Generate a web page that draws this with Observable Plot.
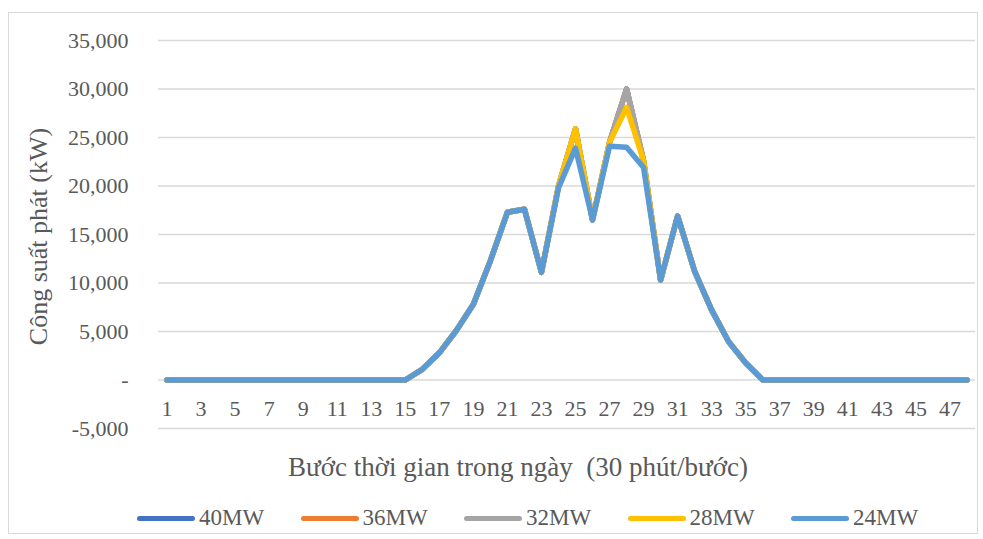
<!DOCTYPE html>
<html>
<head>
<meta charset="utf-8">
<script src="https://cdn.jsdelivr.net/npm/d3@7"></script>
<script src="https://cdn.jsdelivr.net/npm/@observablehq/plot@0.6"></script>
<style>
  body { margin: 0; background: #fff; }
  #wrap { position: relative; width: 983px; height: 539px; font-family: "Liberation Serif", "Times New Roman", serif; color: #595959; }
  #border { position: absolute; left: 8px; top: 12px; width: 970px; height: 522px; border: 1.5px solid #d9d9d9; box-sizing: border-box; }
  #chart { position: absolute; left: 0; top: 0; }
  #xtitle { position: absolute; left: 0; width: 983px; top: 452px; text-align: center; font-size: 27px; line-height: 30px; padding-left: 53px; box-sizing: border-box; white-space: pre; }
  .leg { position: absolute; top: 506px; height: 24px; display: flex; align-items: center; font-size: 23px; }
  .sw { width: 58px; height: 5px; border-radius: 3px; margin-right: 4px; }
</style>
</head>
<body>
<div id="wrap">
  <div id="border"></div>
  <div id="chart"></div>
  <div id="xtitle"></div>
  <div id="legend"></div>
</div>
<script>
// Time steps (30 min each)
const steps = [1,2,3,4,5,6,7,8,9,10,11,12,13,14,15,16,17,18,19,20,21,22,23,24,25,26,27,28,29,30,31,32,33,34,35,36,37,38,39,40,41,42,43,44,45,46,47,48];
const xTickLabels = [1,3,5,7,9,11,13,15,17,19,21,23,25,27,29,31,33,35,37,39,41,43,45,47];
const yTicks = [-5000,0,5000,10000,15000,20000,25000,30000,35000];

const seriesNames = ["40MW","36MW","32MW","28MW","24MW"];
const seriesColors = ["#4472C4","#ED7D31","#A5A5A5","#FFC000","#5B9BD5"];

//             1..14                          15  16    17    18    19    20     21     22     23     24     25     26     27     28     29     30     31     32     33    34    35   36  37..48
const p40 = [0,0,0,0,0,0,0,0,0,0,0,0,0,0, 0, 1100, 2800, 5100, 7800, 12300, 17300, 17600, 11100, 20000, 25900, 16500, 24500, 30000, 22600, 10300, 16900, 11200, 7200, 3950, 1750, 0, 0,0,0,0,0,0,0,0,0,0,0,0];
const p36 = [0,0,0,0,0,0,0,0,0,0,0,0,0,0, 0, 1100, 2800, 5100, 7800, 12300, 17300, 17600, 11100, 20000, 25900, 16500, 24500, 30000, 22600, 10300, 16900, 11200, 7200, 3950, 1750, 0, 0,0,0,0,0,0,0,0,0,0,0,0];
const p32 = [0,0,0,0,0,0,0,0,0,0,0,0,0,0, 0, 1100, 2800, 5100, 7800, 12300, 17300, 17600, 11100, 20000, 25900, 16500, 24500, 30000, 22600, 10300, 16900, 11200, 7200, 3950, 1750, 0, 0,0,0,0,0,0,0,0,0,0,0,0];
const p28 = [0,0,0,0,0,0,0,0,0,0,0,0,0,0, 0, 1100, 2800, 5100, 7800, 12300, 17300, 17600, 11100, 20000, 25900, 16500, 24500, 28100, 22600, 10300, 16900, 11200, 7200, 3950, 1750, 0, 0,0,0,0,0,0,0,0,0,0,0,0];
const p24 = [0,0,0,0,0,0,0,0,0,0,0,0,0,0, 0, 1100, 2800, 5100, 7800, 12300, 17300, 17600, 11100, 19800, 23900, 16500, 24100, 24000, 21900, 10300, 16900, 11200, 7200, 3950, 1750, 0, 0,0,0,0,0,0,0,0,0,0,0,0];

const yTitle = "Công suất phát (kW)";
const xTitle = "Bước thời gian trong ngày  (30 phút/bước)";
document.getElementById("xtitle").textContent = xTitle;

const allSeries = [p40, p36, p32, p28, p24];
const rows = [];
allSeries.forEach((vals, si) => {
  vals.forEach((v, i) => rows.push({step: steps[i], value: v, series: seriesNames[si]}));
});

const fmt = d => d === 0 ? "-" : d3.format(",")(d).replace("\u2212", "-");

const chart = Plot.plot({
  width: 983,
  height: 440,
  marginTop: 40,
  marginBottom: 12,
  marginLeft: 158,
  marginRight: 8,
  style: { fontFamily: '"Liberation Serif", "Times New Roman", serif', fontSize: "22px", color: "#595959", background: "transparent" },
  x: { domain: [0.5, 48.5], axis: null },
  y: { domain: [-5000, 35000], axis: null },
  color: { domain: seriesNames, range: seriesColors },
  marks: [
    Plot.ruleY(yTicks, { stroke: "#d9d9d9", strokeWidth: 1.5 }),
    Plot.axisY({ ticks: yTicks, tickSize: 0, tickPadding: 30, tickFormat: fmt, label: null, fill: "#595959", fontSize: 22 }),
    Plot.text(xTickLabels, { x: d => d, y: 0, dy: 29, text: d => String(d), fill: "#595959", fontSize: 22 }),
    Plot.text([yTitle], { frameAnchor: "left", dx: -120, dy: 2, rotate: -90, textAnchor: "middle", text: d => d, fill: "#595959", fontSize: 26 }),
    Plot.line(rows, { x: "step", y: "value", z: "series", stroke: "series", strokeWidth: 5.5, strokeLinejoin: "round", strokeLinecap: "round" })
  ]
});
document.getElementById("chart").appendChild(chart);

const legend = document.getElementById("legend");
seriesNames.forEach((name, i) => {
  const item = document.createElement("div");
  item.className = "leg";
  item.style.left = (137 + i * 163.5) + "px";
  const sw = document.createElement("div");
  sw.className = "sw";
  sw.style.background = seriesColors[i];
  const lab = document.createElement("span");
  lab.textContent = name;
  item.appendChild(sw);
  item.appendChild(lab);
  legend.appendChild(item);
});
</script>
</body>
</html>
